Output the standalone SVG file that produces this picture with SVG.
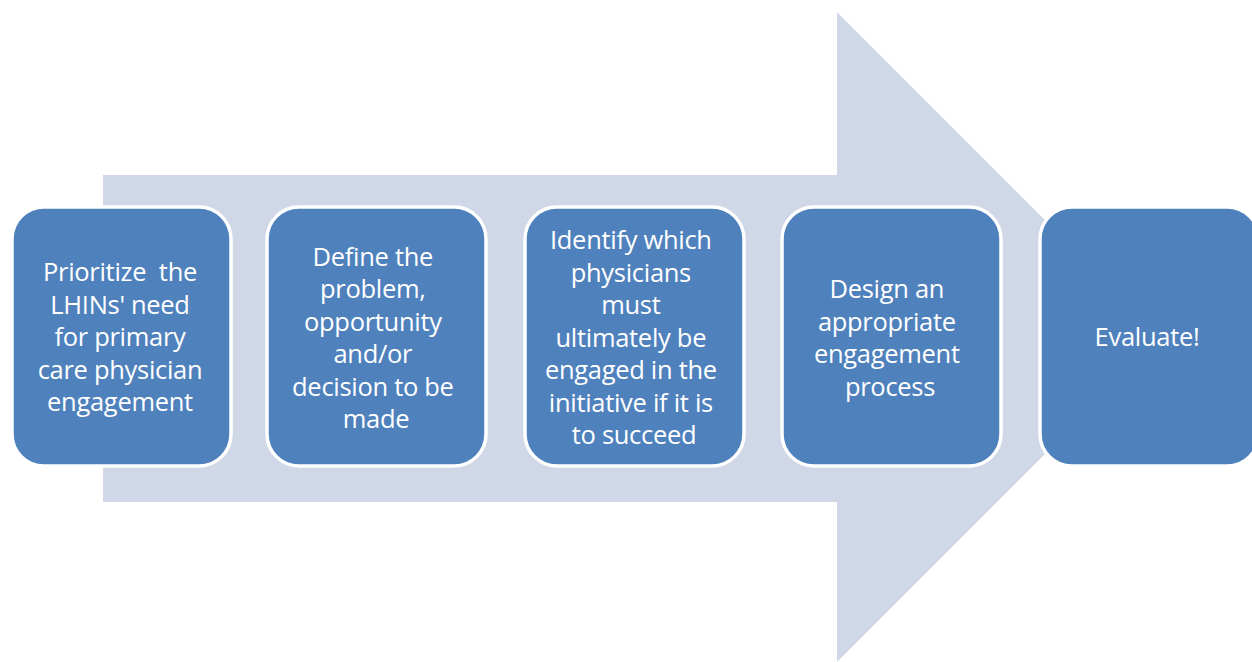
<svg xmlns="http://www.w3.org/2000/svg" width="1252" height="662" viewBox="0 0 1252 662">
  <style>
    .step { fill: #4F81BD; stroke: #FFFFFF; stroke-width: 3.5; }
    .label { fill: #FFFFFF; font-family: "Open Sans", "Noto Sans", sans-serif; font-size: 25.5px; text-anchor: middle; letter-spacing: -0.3px; }
  </style>
  <rect width="1252" height="662" fill="#FFFFFF"/>

  <!-- background block arrow -->
  <g id="connectors">
    <path d="M103,175 H837 V12 L1162,337 L837,662 V502 H103 Z" fill="#D0D8E8"/>
  </g>

  <g id="step1">
    <rect class="step" x="12" y="207" width="219" height="259" rx="32"/>
    <text class="label" xml:space="preserve"><tspan x="120" y="281">Prioritize  the</tspan><tspan x="120" y="313.5">LHINs' need</tspan><tspan x="120" y="346">for primary</tspan><tspan x="120" y="378.5">care physician</tspan><tspan x="120" y="411">engagement</tspan></text>
  </g>

  <g id="step2">
    <rect class="step" x="267" y="207" width="219" height="259" rx="32"/>
    <text class="label">
      <tspan x="376" y="265.5">Define the</tspan>
      <tspan x="376" y="298">problem,</tspan>
      <tspan x="376" y="330.5">opportunity</tspan>
      <tspan x="376" y="363">and/or</tspan>
      <tspan x="376" y="395.5">decision to be</tspan>
      <tspan x="376" y="428">made</tspan>
    </text>
  </g>

  <g id="step3">
    <rect class="step" x="525" y="207" width="219" height="259" rx="32"/>
    <text class="label">
      <tspan x="634" y="249">Identify which</tspan>
      <tspan x="634" y="281.5">physicians</tspan>
      <tspan x="634" y="314">must</tspan>
      <tspan x="634" y="346.5">ultimately be</tspan>
      <tspan x="634" y="379">engaged in the</tspan>
      <tspan x="634" y="411.5">initiative if it is</tspan>
      <tspan x="634" y="444">to succeed</tspan>
    </text>
  </g>

  <g id="step4">
    <rect class="step" x="782" y="207" width="219" height="259" rx="32"/>
    <text class="label">
      <tspan x="890" y="298">Design an</tspan>
      <tspan x="890" y="330.5">appropriate</tspan>
      <tspan x="890" y="363">engagement</tspan>
      <tspan x="890" y="395.5">process</tspan>
    </text>
  </g>

  <g id="step5">
    <rect class="step" x="1040" y="207" width="219" height="259" rx="32"/>
    <text class="label">
      <tspan x="1147" y="346">Evaluate!</tspan>
    </text>
  </g>
</svg>
